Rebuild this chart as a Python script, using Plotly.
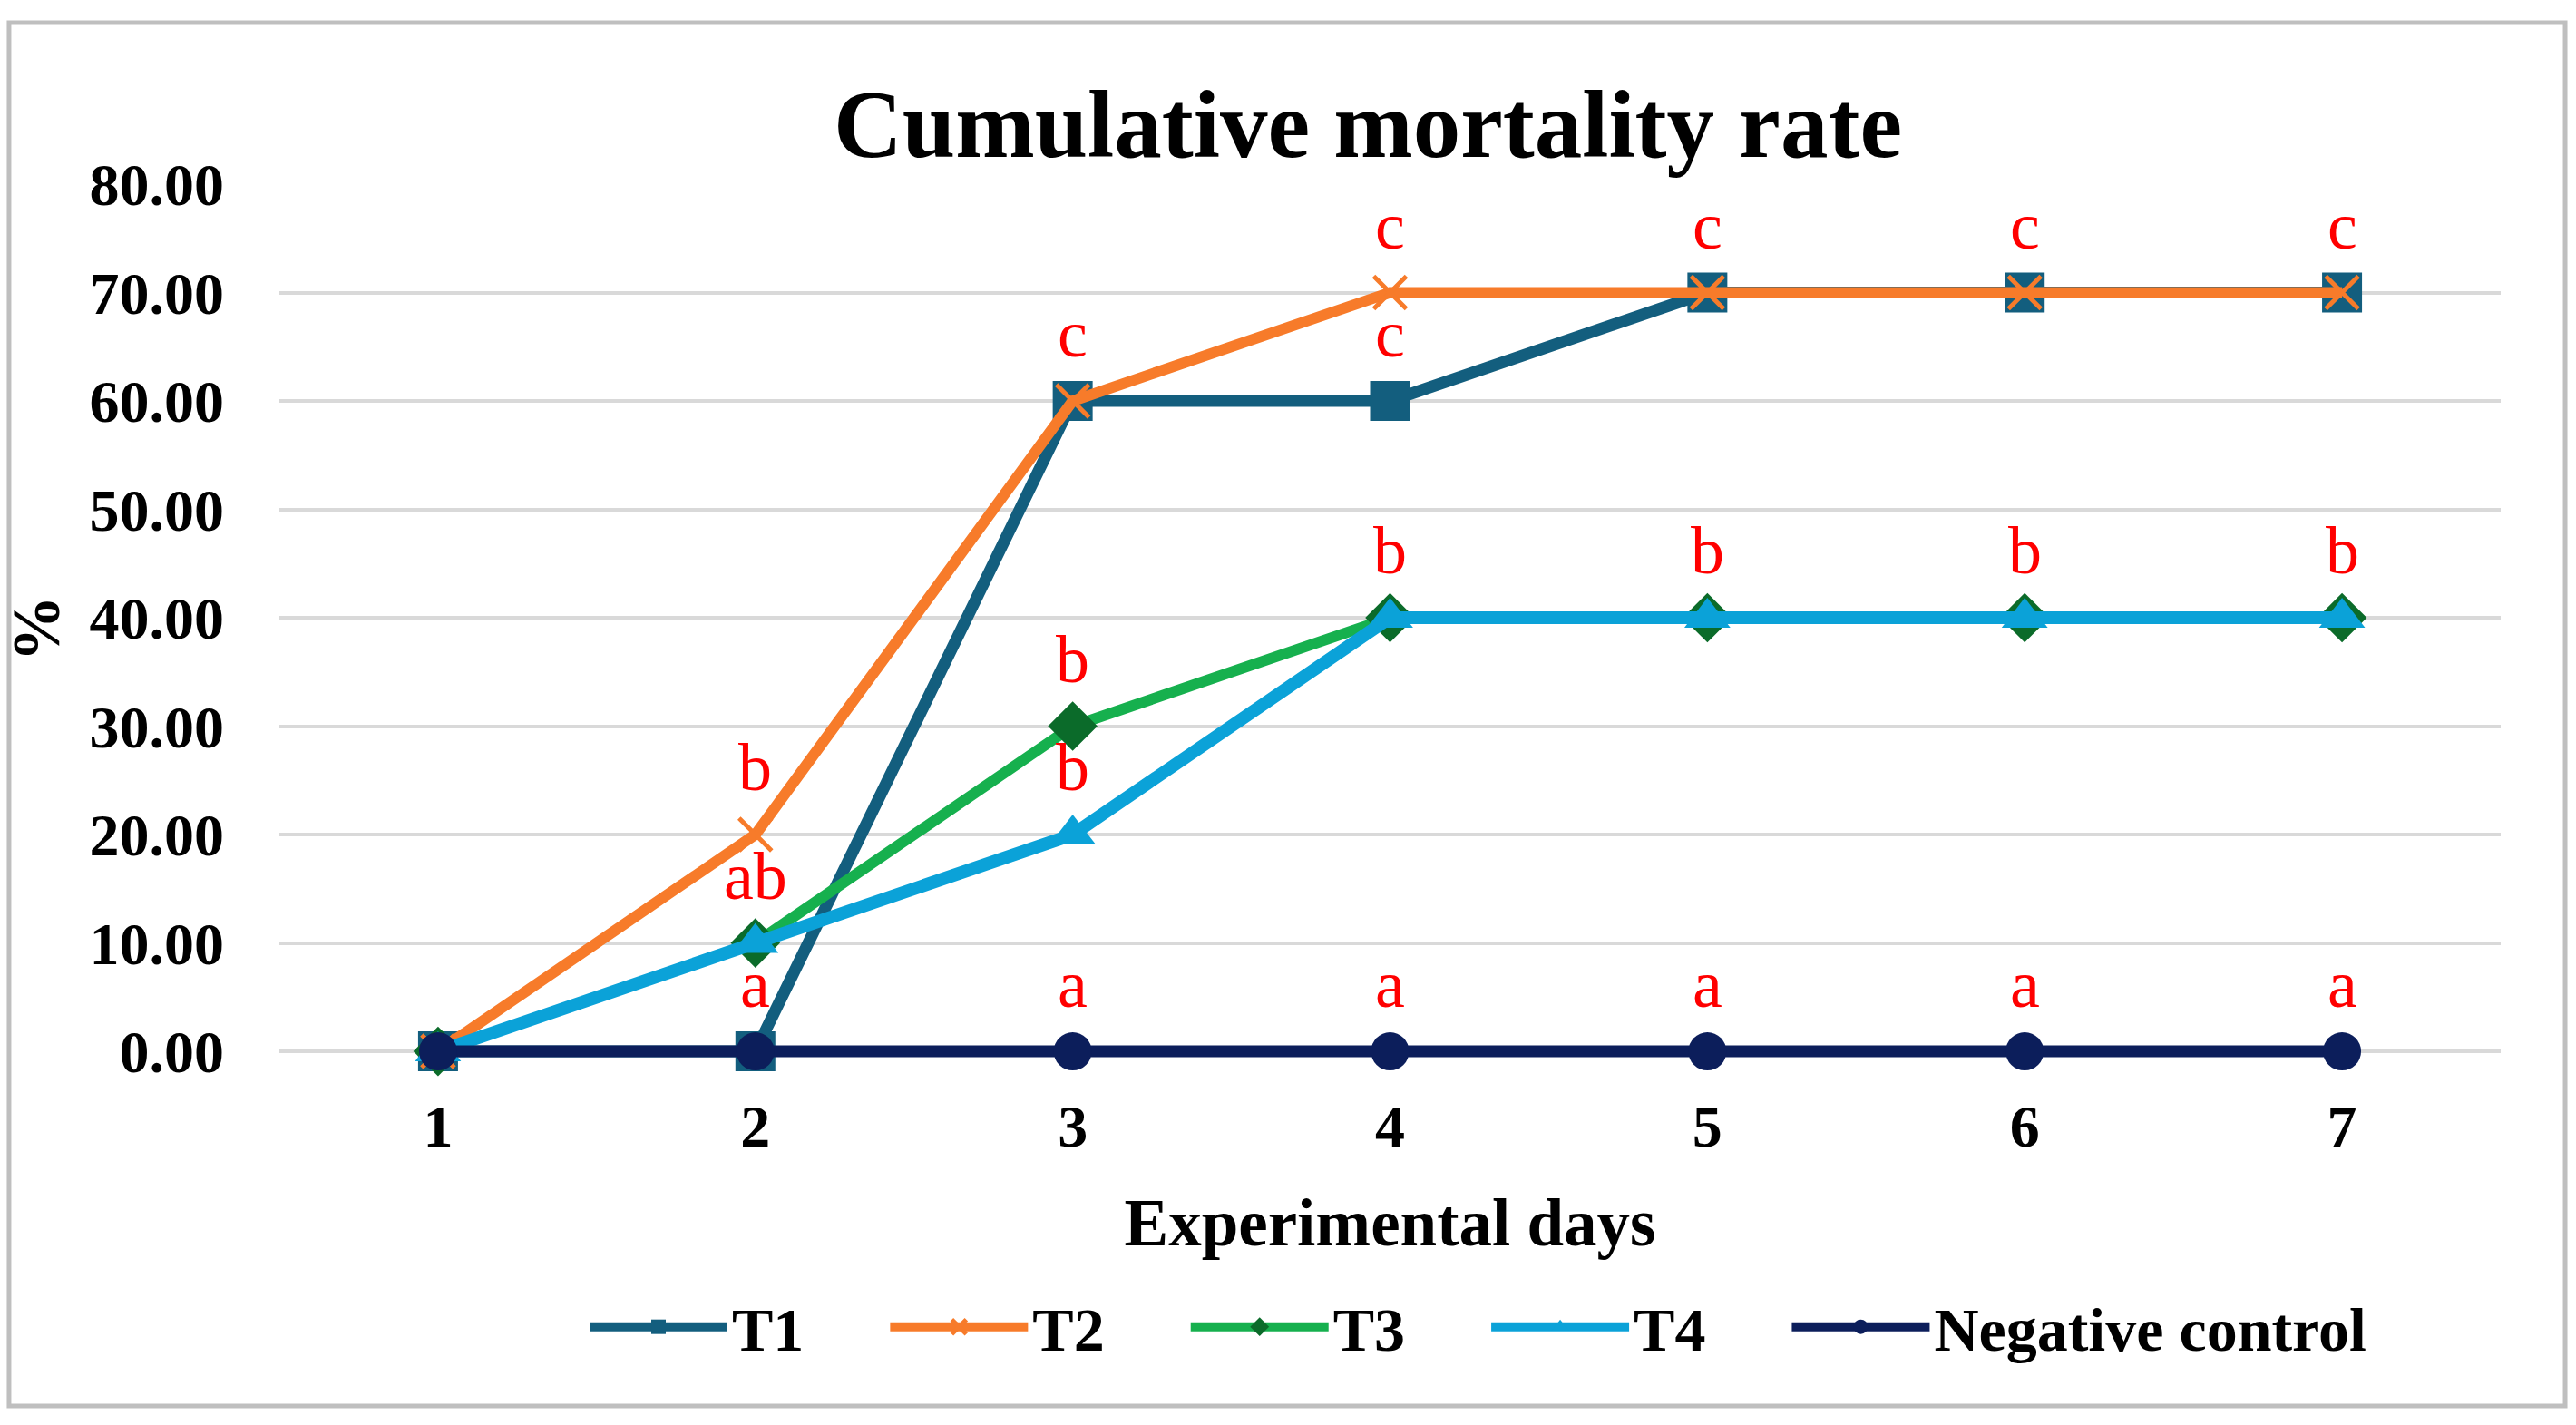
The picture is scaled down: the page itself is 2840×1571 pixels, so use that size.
import plotly.graph_objects as go

days = [1, 2, 3, 4, 5, 6, 7]
t1 = [0, 0, 60, 60, 70, 70, 70]
t2 = [0, 20, 60, 70, 70, 70, 70]
t3 = [0, 10, 30, 40, 40, 40, 40]
t4 = [0, 10, 20, 40, 40, 40, 40]
neg = [0, 0, 0, 0, 0, 0, 0]

label_days = [2, 2, 2, 3, 3, 3, 3, 4, 4, 4, 4, 5, 5, 5, 6, 6, 6, 7, 7, 7]
label_vals = [20, 10, 0, 60, 30, 20, 0, 70, 60, 40, 0, 70, 40, 0, 70, 40, 0, 70, 40, 0]
label_text = ["b", "ab", "a", "c", "b", "b", "a", "c", "c", "b", "a",
              "c", "b", "a", "c", "b", "a", "c", "b", "a"]

FONT = "Liberation Serif"
PAD = "\u00a0" * 5

fig = go.Figure()

series = [
    ("T1", t1, "#135E7E", dict(symbol="square", size=44, color="#135E7E"), 13),
    ("T2", t2, "#F77B2A", dict(symbol="x-thin", size=36, color="#F77B2A",
                               line=dict(width=5, color="#F77B2A")), 12),
    ("T3", t3, "#16B04E", dict(symbol="diamond", size=42, color="#0B6B2A"), 12),
    ("T4", t4, "#0BA2D8", dict(symbol="triangle-up", size=44, color="#0BA2D8"), 14),
    ("Negative control", neg, "#0C1E5B", dict(symbol="circle", size=42, color="#0C1E5B"), 13),
]
for name, vals, col, mk, w in series:
    legend_name = name if name == "Negative control" else name + PAD
    fig.add_trace(go.Scatter(
        x=days, y=vals, name=legend_name, mode="lines+markers",
        line=dict(color=col, width=w), marker=mk, cliponaxis=False,
    ))

for d, v, t in zip(label_days, label_vals, label_text):
    fig.add_annotation(x=d, y=v, text=t, showarrow=False, yanchor="bottom",
                       yshift=32, borderpad=0,
                       font=dict(family=FONT, size=74, color="#FF0000"))

# chart border
fig.add_shape(type="rect", xref="paper", yref="paper",
              x0=-0.1217, x1=1.0290, y0=-0.3745, y1=1.1816,
              line=dict(color="#BFBFBF", width=5), fillcolor="rgba(0,0,0,0)", layer="below")

fig.update_layout(
    width=2840, height=1571,
    margin=dict(l=308, r=83, t=203, b=388),
    paper_bgcolor="white", plot_bgcolor="white",
    font=dict(family=FONT, color="black"),
    title=dict(text="Cumulative mortality rate", x=0.49, xref="paper", xanchor="center",
               y=1 - 136 / 1571, yref="container", yanchor="middle",
               font=dict(family=FONT, size=105, weight="bold", color="black")),
    xaxis=dict(range=[0.5, 7.5], tickvals=days, ticktext=[str(d) for d in days],
               showgrid=False, zeroline=False, showline=False, ticks="",
               tickfont=dict(family=FONT, size=66, weight="bold"),
               ticklabelstandoff=14,
               title=dict(text="Experimental days", standoff=44,
                          font=dict(family=FONT, size=73, weight="bold"))),
    yaxis=dict(range=[-2, 80], tick0=0, dtick=10, tickformat=".2f",
               showgrid=True, gridcolor="#D9D9D9", gridwidth=4,
               zeroline=False, showline=False, ticks="",
               tickfont=dict(family=FONT, size=66, weight="bold"),
               ticklabelstandoff=60,
               title=dict(text="%", standoff=30,
                          font=dict(family=FONT, size=73, weight="bold"))),
    legend=dict(orientation="h", xref="paper", yref="paper",
                x=(645 - 308) / 2449, xanchor="left", y=-0.2857, yanchor="middle",
                itemwidth=152,
                font=dict(family=FONT, size=68, weight="bold", color="black")),
    showlegend=True,
)

fig.write_html("out.html")
